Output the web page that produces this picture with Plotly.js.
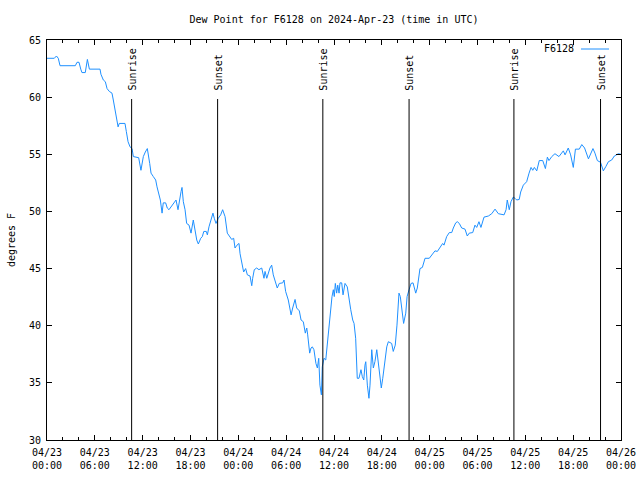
<!DOCTYPE html>
<html>
<head>
<meta charset="utf-8">
<script src="https://cdn.plot.ly/plotly-3.0.1.min.js"></script>
<style>html,body{margin:0;padding:0;background:#fff;}#chart{width:640px;height:480px;}</style>
</head>
<body>
<div id="chart"></div>
<script>
// Observation times (UTC)
const times = [
"2024-04-23 00:00","2024-04-23 00:55","2024-04-23 01:11","2024-04-23 01:25","2024-04-23 01:38","2024-04-23 03:33","2024-04-23 03:46","2024-04-23 04:01","2024-04-23 04:14","2024-04-23 04:23","2024-04-23 04:48","2024-04-23 05:04","2024-04-23 05:19","2024-04-23 06:39","2024-04-23 06:46","2024-04-23 07:04","2024-04-23 07:19","2024-04-23 07:32","2024-04-23 07:49","2024-04-23 08:09","2024-04-23 08:19","2024-04-23 08:26","2024-04-23 08:40","2024-04-23 08:55","2024-04-23 09:04","2024-04-23 09:47","2024-04-23 09:57","2024-04-23 10:10","2024-04-23 10:25","2024-04-23 10:40","2024-04-23 10:50","2024-04-23 11:30","2024-04-23 11:47","2024-04-23 12:05","2024-04-23 12:20","2024-04-23 12:35","2024-04-23 12:53","2024-04-23 13:03","2024-04-23 13:20","2024-04-23 13:38","2024-04-23 13:48","2024-04-23 13:58","2024-04-23 14:13","2024-04-23 14:26","2024-04-23 14:35","2024-04-23 14:53","2024-04-23 15:05","2024-04-23 15:18","2024-04-23 15:43","2024-04-23 16:11","2024-04-23 16:26","2024-04-23 16:36","2024-04-23 16:49","2024-04-23 16:56","2024-04-23 17:06","2024-04-23 17:19","2024-04-23 17:31","2024-04-23 17:49","2024-04-23 18:04","2024-04-23 18:21","2024-04-23 18:34","2024-04-23 18:47","2024-04-23 18:59","2024-04-23 19:17","2024-04-23 19:29","2024-04-23 19:40","2024-04-23 19:59","2024-04-23 20:07","2024-04-23 20:19","2024-04-23 20:32","2024-04-23 20:40","2024-04-23 20:49","2024-04-23 20:59","2024-04-23 21:12","2024-04-23 21:29","2024-04-23 21:47","2024-04-23 22:02","2024-04-23 22:20","2024-04-23 22:37","2024-04-23 22:52","2024-04-23 23:10","2024-04-23 23:25","2024-04-23 23:35","2024-04-23 23:50",
"2024-04-24 00:05","2024-04-24 00:13","2024-04-24 00:25","2024-04-24 00:40","2024-04-24 00:55","2024-04-24 01:08","2024-04-24 01:28","2024-04-24 01:41","2024-04-24 01:48","2024-04-24 02:00","2024-04-24 02:18","2024-04-24 02:35","2024-04-24 02:56","2024-04-24 03:13","2024-04-24 03:21","2024-04-24 03:34","2024-04-24 03:58","2024-04-24 04:11","2024-04-24 04:23","2024-04-24 04:36","2024-04-24 04:53","2024-04-24 05:08","2024-04-24 05:34","2024-04-24 05:44","2024-04-24 05:56","2024-04-24 06:16","2024-04-24 06:37","2024-04-24 06:49","2024-04-24 07:07","2024-04-24 07:19","2024-04-24 07:39","2024-04-24 07:52","2024-04-24 08:09","2024-04-24 08:24","2024-04-24 08:35","2024-04-24 08:42","2024-04-24 08:50","2024-04-24 08:57","2024-04-24 09:07","2024-04-24 09:17","2024-04-24 09:29","2024-04-24 09:44","2024-04-24 09:55","2024-04-24 10:05","2024-04-24 10:14","2024-04-24 10:25","2024-04-24 10:32","2024-04-24 10:45","2024-04-24 10:58","2024-04-24 11:05","2024-04-24 11:13","2024-04-24 11:22","2024-04-24 11:30","2024-04-24 11:37","2024-04-24 11:45","2024-04-24 11:55","2024-04-24 12:02","2024-04-24 12:10","2024-04-24 12:20","2024-04-24 12:28","2024-04-24 12:38","2024-04-24 12:45","2024-04-24 12:58","2024-04-24 13:08","2024-04-24 13:23","2024-04-24 13:40","2024-04-24 13:53","2024-04-24 14:06","2024-04-24 14:21","2024-04-24 14:31","2024-04-24 14:43","2024-04-24 14:55","2024-04-24 15:08","2024-04-24 15:23","2024-04-24 15:33","2024-04-24 15:44","2024-04-24 15:53","2024-04-24 15:59","2024-04-24 16:11","2024-04-24 16:23","2024-04-24 16:31","2024-04-24 16:44","2024-04-24 16:56","2024-04-24 17:08","2024-04-24 17:22","2024-04-24 17:34","2024-04-24 17:46","2024-04-24 17:56","2024-04-24 18:07","2024-04-24 18:19","2024-04-24 18:37","2024-04-24 18:49","2024-04-24 19:14","2024-04-24 19:26","2024-04-24 19:41","2024-04-24 19:54","2024-04-24 20:02","2024-04-24 20:09","2024-04-24 20:19","2024-04-24 20:29","2024-04-24 20:44","2024-04-24 21:00","2024-04-24 21:10","2024-04-24 21:25","2024-04-24 21:40","2024-04-24 21:55","2024-04-24 22:10","2024-04-24 22:15","2024-04-24 22:27","2024-04-24 22:38","2024-04-24 22:47","2024-04-24 23:05","2024-04-24 23:25","2024-04-24 23:57",
"2024-04-25 00:16","2024-04-25 00:40","2024-04-25 00:58","2024-04-25 01:18","2024-04-25 01:38","2024-04-25 01:48","2024-04-25 02:08","2024-04-25 02:28","2024-04-25 02:46","2024-04-25 02:58","2024-04-25 03:16","2024-04-25 03:28","2024-04-25 03:43","2024-04-25 04:01","2024-04-25 04:26","2024-04-25 04:43","2024-04-25 04:58","2024-04-25 05:24","2024-04-25 05:41","2024-04-25 05:54","2024-04-25 06:11","2024-04-25 06:26","2024-04-25 06:49","2024-04-25 07:22","2024-04-25 07:47","2024-04-25 08:12","2024-04-25 08:37","2024-04-25 09:20","2024-04-25 09:35","2024-04-25 09:44","2024-04-25 09:59","2024-04-25 10:12","2024-04-25 10:29","2024-04-25 10:42","2024-04-25 10:55","2024-04-25 11:14","2024-04-25 11:25","2024-04-25 11:45","2024-04-25 12:10","2024-04-25 12:28","2024-04-25 12:43","2024-04-25 12:56","2024-04-25 13:08","2024-04-25 13:26","2024-04-25 13:45","2024-04-25 14:11","2024-04-25 14:31","2024-04-25 14:46","2024-04-25 14:58","2024-04-25 15:19","2024-04-25 15:43","2024-04-25 16:13","2024-04-25 16:46","2024-04-25 16:59","2024-04-25 17:23","2024-04-25 17:41","2024-04-25 18:01","2024-04-25 18:17","2024-04-25 18:46","2024-04-25 19:05","2024-04-25 19:26","2024-04-25 19:55","2024-04-25 20:12","2024-04-25 20:29","2024-04-25 20:44","2024-04-25 21:02","2024-04-25 21:26","2024-04-25 21:35","2024-04-25 21:47","2024-04-25 22:07","2024-04-25 22:25","2024-04-25 22:50","2024-04-25 23:10","2024-04-25 23:40","2024-04-26 00:00"
];

// Dew point (degrees F)
const dewF = [
63.4,63.4,63.6,63.4,62.75,62.75,63.05,63.05,62.45,62.15,62.15,63.3,62.45,62.45,62.0,61.5,61.35,60.75,60.5,60.35,59.75,59.3,58.45,57.4,57.7,57.7,57.0,56.1,55.65,55.5,54.8,54.7,53.6,54.8,55.2,55.5,54.2,53.35,53.05,52.75,52.15,51.6,51.0,49.85,50.75,50.75,50.3,50.15,50.55,51.0,50.15,51.0,51.75,52.1,50.85,50.15,48.95,48.8,48.1,49.25,48.4,47.5,47.15,47.65,47.8,48.25,48.25,47.95,48.65,49.1,49.4,49.85,49.4,48.95,49.4,49.7,50.15,49.55,48.1,47.8,47.55,47.65,46.8,47.05,
47.2,46.3,45.6,44.7,45.0,44.45,44.35,43.5,44.15,44.9,45.05,44.9,45.05,44.15,44.75,44.15,45.05,45.3,44.45,43.85,43.3,43.7,43.75,44.0,43.0,42.25,40.95,41.55,42.3,41.55,41.3,40.5,40.35,39.35,39.8,39.2,38.15,37.6,38.05,38.15,37.9,36.7,36.3,37.15,34.8,33.95,36.4,37.15,37.0,37.9,38.75,39.9,40.8,41.65,42.55,43.15,42.55,43.7,42.85,43.55,42.85,43.75,43.75,42.7,43.7,43.4,42.25,41.4,40.5,40.2,38.9,35.4,35.4,36.15,35.55,35.25,36.55,36.85,34.8,33.65,34.8,37.9,36.3,36.85,37.9,36.85,35.7,34.55,35.4,36.4,38.15,38.6,38.45,37.75,38.3,40.05,41.4,42.85,42.55,41.4,40.2,41.1,42.55,43.15,43.7,43.75,43.05,42.85,43.3,44.45,45.0,45.1,45.9,45.9,
46.2,46.55,46.5,46.8,47.2,47.05,47.8,48.15,48.15,48.55,49.0,49.1,48.95,48.55,48.45,47.85,48.1,48.15,48.8,48.6,49.1,48.6,49.5,49.6,49.8,50.2,49.8,49.7,50.15,51.0,50.15,50.85,51.25,51.15,51.0,51.05,51.7,52.3,52.6,53.35,53.85,53.6,53.85,53.55,54.45,54.45,53.75,54.75,54.45,54.8,55.05,54.8,55.3,54.95,55.55,54.95,53.85,55.45,55.45,55.85,55.55,54.6,55.05,55.5,55.1,54.45,54.3,54.05,53.55,53.95,54.35,54.5,54.85,55.05,55.0
];

// Sunrise / sunset markers
const sunTimes = ["2024-04-23 10:37","2024-04-23 21:24","2024-04-24 10:36","2024-04-24 21:25","2024-04-25 10:34","2024-04-25 21:26"];
const sunLabels = ["Sunrise","Sunset","Sunrise","Sunset","Sunrise","Sunset"];

const seriesName = "F6128";
const lineColor = "#1e90ff";
const FONT = "DejaVu Sans Mono";

const shapes = sunTimes.map(t => ({
  type: "line", xref: "x", yref: "paper", x0: t, x1: t, y0: 0, y1: 0.8525,
  line: {color: "#000", width: 1}
}));
// legend sample line (gnuplot style: text then sample)
shapes.push({type: "line", xref: "paper", yref: "paper", x0: 0.9303, x1: 0.9791, y0: 0.9775, y1: 0.9775,
  line: {color: lineColor, width: 1}});

const annotations = sunTimes.map((t, i) => ({
  x: t, xref: "x", y: 0.868, yref: "paper", text: sunLabels[i], textangle: -90,
  xanchor: "center", yanchor: "bottom", showarrow: false, xshift: 1,
  font: {family: FONT, size: 10, color: "#000"}
}));
annotations.push({x: 0.9217, xref: "paper", y: 0.9775, yref: "paper", text: seriesName,
  xanchor: "right", yanchor: "middle", showarrow: false, font: {family: FONT, size: 10, color: "#000"}});

const trace = {
  x: times, y: dewF, type: "scatter", mode: "lines", name: seriesName,
  line: {color: lineColor, width: 1}, showlegend: false
};

const layout = {
  width: 640, height: 480,
  margin: {l: 47, r: 19, t: 40, b: 40},
  paper_bgcolor: "#fff", plot_bgcolor: "#fff",
  font: {family: FONT, size: 10, color: "#000"},
  title: {text: "Dew Point for F6128 on 2024-Apr-23 (time in UTC)", x: 0.5, xref: "paper", xanchor: "center",
          y: 0.96, yref: "container", yanchor: "middle", font: {family: FONT, size: 10, color: "#000"}},
  showlegend: false,
  xaxis: {
    type: "date", range: ["2024-04-23 00:00", "2024-04-26 00:00"],
    tick0: "2024-04-23 00:00", dtick: 21600000, tickformat: "%m/%d<br>%H:%M",
    ticks: "inside", ticklen: 5, tickcolor: "#000", tickwidth: 1, ticklabelstandoff: 3,
    minor: {dtick: 7200000, tick0: "2024-04-23 00:00", ticks: "inside", ticklen: 3, tickcolor: "#000", showgrid: false},
    showline: true, linecolor: "#000", linewidth: 1, mirror: "ticks",
    showgrid: false, zeroline: false, fixedrange: true,
    tickfont: {family: FONT, size: 10, color: "#000"}
  },
  yaxis: {
    range: [30, 65], tick0: 30, dtick: 5,
    ticks: "inside", ticklen: 5, tickcolor: "#000", tickwidth: 1, ticklabelstandoff: 3,
    showline: true, linecolor: "#000", linewidth: 1, mirror: "ticks",
    showgrid: false, zeroline: false, fixedrange: true,
    tickfont: {family: FONT, size: 10, color: "#000"},
    title: {text: "degrees F", standoff: 11, font: {family: FONT, size: 10, color: "#000"}}
  },
  shapes: shapes,
  annotations: annotations
};

Plotly.newPlot("chart", [trace], layout, {staticPlot: true, displayModeBar: false});
</script>
</body>
</html>
